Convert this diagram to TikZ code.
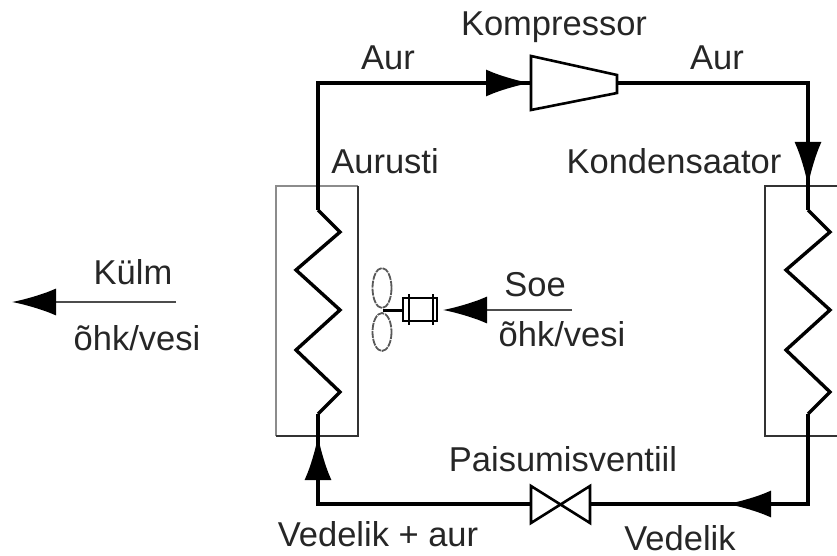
\documentclass[tikz,border=0pt]{standalone}
\usepackage{fontspec}
\setmainfont{Liberation Sans}
\usetikzlibrary{arrows.meta,positioning}

\begin{document}
\begin{tikzpicture}
		[x=1pt,y=-1pt,>={Latex[length=44pt,width=27pt,black]},
		 pipe/.style = {draw, line width=3.4pt, line join=miter},
		 thin/.style = {draw=black!80, line width=2pt},
		 flow/.style = {draw=black!70, line width=2.4pt},
		 part/.style = {draw, line width=2.6pt, fill=white, line join=miter},
		 blade/.style = {draw=black!65, line width=1.8pt, dash pattern=on 7pt off 1pt},
		 label/.style = {inner sep=0pt, text=black!85, font=\fontsize{34.5}{40}\selectfont},
		]

	\useasboundingbox (0,0) rectangle (837,556);

	% heat exchanger boxes
	\draw[thin, draw=black!45] (276,436) -- (276,186) -- (358,186);
	\draw[thin] (358,186) -- (358,436) -- (276,436);
	\draw[thin] (837,186) -- (765,186) -- (765,436) -- (837,436);

	\coordinate (evaptop)  at (318,210);
	\coordinate (evapbot)  at (318,414);
	\coordinate (condtop)  at (808,210);
	\coordinate (condbot)  at (808,414);
	\coordinate (compin)   at (531,83);
	\coordinate (compout)  at (617,83);
	\coordinate (valvein)  at (590,504);
	\coordinate (valveout) at (531,504);
	\coordinate (corner1)  at (318,83);
	\coordinate (corner2)  at (808,83);
	\coordinate (corner3)  at (808,504);
	\coordinate (corner4)  at (318,504);
	\coordinate (tipa)     at (530,83);
	\coordinate (tipb)     at (808,186);
	\coordinate (tipc)     at (727,504);
	\coordinate (tipd)     at (318,436);

	% coils
	\draw[pipe] (evaptop) -- ++(22,22) -- ++(-44,38) -- ++(44,40) -- ++(-44,40) -- ++(44,42) -- (evapbot);
	\draw[pipe] (condtop) -- ++(22,22) -- ++(-44,38) -- ++(44,40) -- ++(-44,40) -- ++(44,42) -- (condbot);

	% loop
	\draw[pipe] (evaptop) -- (corner1) -- (compin);
	\draw[pipe] (compout) -- (corner2) -- (condtop);
	\draw[pipe] (condbot) -- (corner3) -- (valvein);
	\draw[pipe] (valveout) -- (corner4) -- (evapbot);

	% arrows on the loop
	\draw[pipe,->] (corner1) -- (tipa);
	\draw[pipe,->] (corner2) -- (tipb);
	\draw[pipe,->] (corner3) -- (tipc);
	\draw[pipe,->] (corner4) -- (tipd);

	% compressor and valve
	\draw[part] (compin) -- (531,56) -- (617,75) -- (compout) -- (617,93) -- (531,110) -- cycle;
	\draw[part] (531,486) -- (590,523) -- (590,486) -- (531,523) -- cycle;

	% fan
	\draw[blade] (382,288) ellipse (9.5 and 20);
	\draw[blade] (382,332) ellipse (9.5 and 19);
	\coordinate (hub) at (383,310);
	\coordinate (motor) at (403,310);
	\draw[line width=3pt] (hub) -- (motor);
	\draw[line width=2.2pt] (403,298) rectangle (437,321);
	\draw[line width=1.6pt] (409,294) -- (409,325);
	\draw[line width=1.6pt] (433,294) -- (433,325);

	% air flow
	\coordinate (soestart) at (572,310);
	\coordinate (soeend)   at (443,310);
	\coordinate (kulmstart) at (176,302);
	\coordinate (kulmend)   at (12,302);
	\draw[flow,->] (soestart) -- (soeend);
	\draw[flow,->] (kulmstart) -- (kulmend);

	\node [label] (kompressor)  at (554,27)  {Kompressor};
	\node [label] (aur1)        at (388,58)  {Aur};
	\node [label] (aur2)        at (717,58)  {Aur};
	\node [label] (aurusti)     at (385,161) {Aurusti};
	\node [label] (kondensaator) at (674,161) {Kondensaator};
	\node [label] (kulm)        at (133,272) {Külm};
	\node [label] (ohk1)        at (137,338) {õhk/vesi};
	\node [label] (soe)         at (535,285) {Soe};
	\node [label] (ohk2)        at (562,334) {õhk/vesi};
	\node [label] (paisumis)    at (563,459) {Paisumisventiil};
	\node [label] (vedelikaur)  at (378,534) {Vedelik + aur};
	\node [label] (vedelik)     at (680,538) {Vedelik};

\end{tikzpicture}
\end{document}
